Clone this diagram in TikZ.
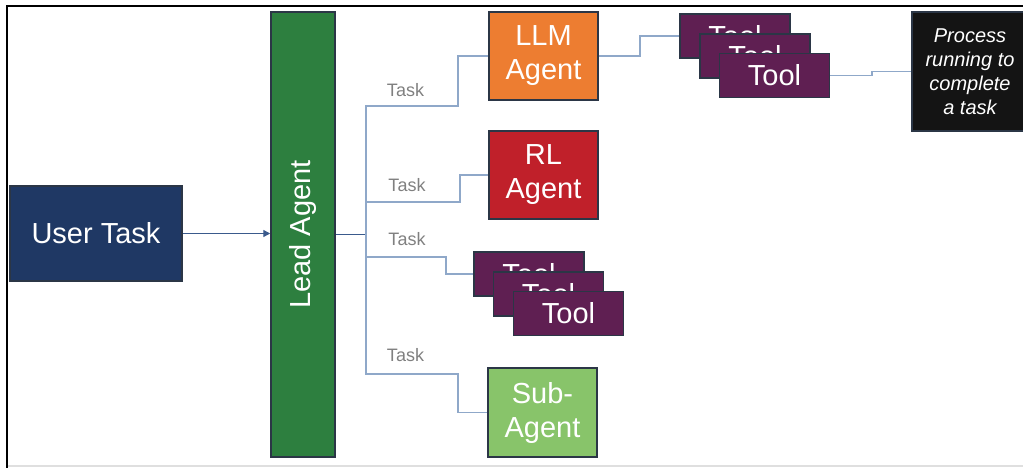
\documentclass[tikz,border=0pt]{standalone}
\usepackage{fontspec}
\setmainfont{Liberation Sans}
\usetikzlibrary{arrows.meta}
\definecolor{usernavy}{HTML}{1F3864}
\definecolor{leadgreen}{HTML}{2D7F3F}
\definecolor{llmorange}{HTML}{ED7D31}
\definecolor{rlred}{HTML}{C0202A}
\definecolor{subgreen}{HTML}{88C46A}
\definecolor{toolpurple}{HTML}{5F1F52}
\definecolor{procblack}{HTML}{141414}
\definecolor{edge}{HTML}{2B3646}
\definecolor{linkblue}{HTML}{8FA8C9}
\definecolor{arrowblue}{HTML}{3A5A8C}
\definecolor{taskgray}{HTML}{808080}
\tikzstyle{box}=[rectangle, draw=edge, line width=1.5pt, text=white, inner sep=0pt, align=center, font=\fontsize{29}{34}\selectfont]
\tikzstyle{agent}=[box, minimum width=109pt, minimum height=88pt]
\tikzstyle{tool}=[box, fill=toolpurple, minimum width=110pt, minimum height=44pt]
\tikzstyle{link}=[draw=linkblue, line width=1.3pt]
\tikzstyle{tasklabel}=[text=taskgray, font=\fontsize{18}{20}\selectfont, inner sep=0pt]

\begin{document}
\begin{tikzpicture}[x=1pt, y=-1pt]
                    \useasboundingbox (0, 0) rectangle (1023, 468);
                    \draw[gray!25, line width=1.2pt] (7, 466)--(1023, 466);
                    \draw[black, line width=2pt] (7, 468)--(7, 6)--(1023, 6);
                    \node[box, fill=usernavy, minimum width=172pt, minimum height=95pt] (user) at (96, 233.5) {User Task};
                    \node[box, fill=leadgreen, rotate=90, minimum width=445pt, minimum height=64pt] (lead) at (303, 234.5) {Lead Agent};
                    \node[agent, fill=llmorange] (llm) at (543.5, 56) {LLM\\Agent};
                    \node[agent, fill=rlred] (rl) at (543.5, 175) {RL\\Agent};
                    \node[agent, fill=subgreen, minimum height=89pt] (sub) at (542.5, 412.5) {Sub-\\Agent};
                    \node[tool] (toola1) at (735, 36) {Tool};
                    \node[tool] (toola2) at (755, 56) {Tool};
                    \node[tool] (toola3) at (774.5, 75.5) {Tool};
                    \node[tool] (toolb1) at (529, 274) {Tool};
                    \node[tool] (toolb2) at (548.5, 294) {Tool};
                    \node[tool] (toolb3) at (568.5, 313.5) {Tool};
                    \node[box, fill=procblack, minimum width=116pt, minimum height=119pt, font=\fontsize{20}{24}\selectfont\itshape] (proc) at (970, 71.5) {Process\\running to\\complete\\a task};
                    \node[tasklabel] (task1) at (405.5, 90) {Task};
                    \node[tasklabel] (task2) at (407, 185.5) {Task};
                    \node[tasklabel] (task3) at (407, 239) {Task};
                    \node[tasklabel] (task4) at (405.5, 355.5) {Task};
                    \coordinate (trunk) at (366, 234.5);
                    \coordinate (j1) at (458, 106);
                    \coordinate (j2) at (460, 202);
                    \coordinate (j3) at (446, 257);
                    \coordinate (j4) at (458, 374);
                    \coordinate (k1) at (640, 56);
                    \coordinate (k2) at (872, 75.5);
                    \draw[draw=arrowblue, line width=1.3pt, -{Triangle[length=7pt, width=7pt]}] (user.east)--(lead.north |- user.east);
                    \draw[draw=arrowblue, line width=1.3pt] (lead.south)--(trunk);
                    \draw[link] (trunk) |- (j1) |- (llm.west);
                    \draw[link] (trunk) |- (j2) |- (rl.west);
                    \draw[link] (trunk) |- (j3) |- (toolb1.west);
                    \draw[link] (trunk) |- (j4) |- (sub.west);
                    \draw[link] (llm.east)--(k1) |- (toola1.west);
                    \draw[link] (toola3.east)--(k2) |- (proc.west);
                \end{tikzpicture}
\end{document}
